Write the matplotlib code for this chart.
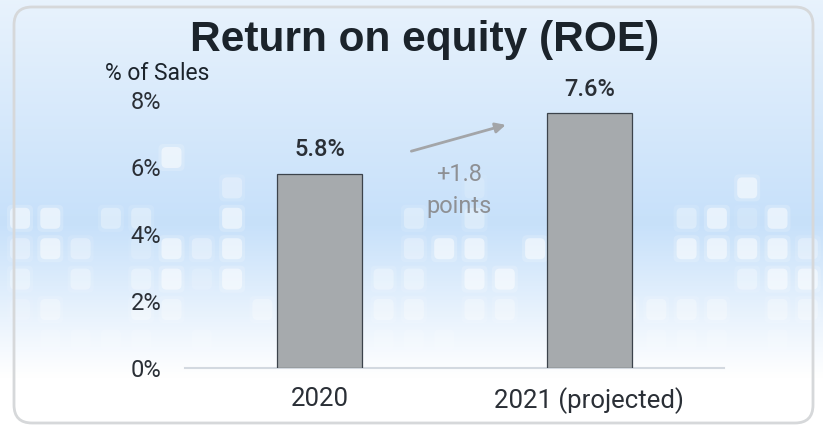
import matplotlib
matplotlib.use("Agg")
import matplotlib.pyplot as plt
import numpy as np
from matplotlib.patches import FancyBboxPatch
from matplotlib import font_manager

categories = ["2020", "2021 (projected)"]
values = [5.8, 7.6]
value_labels = ["5.8%", "7.6%"]
yticks = [0, 2, 4, 6, 8]
ytick_labels = ["0%", "2%", "4%", "6%", "8%"]
title = "Return on equity (ROE)"
ylabel = "% of Sales"
change_label = "+1.8\npoints"

# decorative background tiles (intensity per column, per row)
tile_rows = [
    "     3                     ",
    "       2       1        3  ",
    "33 22  3     2 2      2313 ",
    "232 1323 1   233 3    33332",
    "2 2 2313    22 33       233",
    "12  22  2   22 22   2222 22",
    " 1111 1     111     1111 1 ",
    "1 1 1  1 1   1 1  1  1 1 1 ",
]

names = {f.name for f in font_manager.fontManager.ttflist}
narrow = "Liberation Sans Narrow" if "Liberation Sans Narrow" in names else "Roboto"

W, H = 823, 429
fig = plt.figure(figsize=(W / 100, H / 100), dpi=100)

# background gradient
bg = fig.add_axes([0, 0, 1, 1], zorder=0)
bg.set_axis_off()
grad = np.linspace(0, 1, 256)
top = np.array([0.91, 0.95, 0.99])
mid = np.array([0.78, 0.88, 0.98])
bot = np.array([1.0, 1.0, 1.0])
cols = []
for g in grad:
    if g < 0.52:
        t = g / 0.52
        c = top * (1 - t) + mid * t
    else:
        t = min(1.0, (g - 0.52) / 0.36)
        c = mid * (1 - t) + bot * t
    cols.append(c)
img = np.array(cols)[:, None, :].repeat(2, axis=1)
bg.imshow(img, aspect="auto", extent=[0, W, H, 0], origin="upper")

alphas = {"1": 0.15, "2": 0.3, "3": 0.5}
for r, row in enumerate(tile_rows):
    for c, ch in enumerate(row):
        if ch in alphas:
            px = 10 + 30.3 * c
            py = 147 + 30.4 * r
            for grow, fa in ((3, 0.35), (0, 1.0)):
                bg.add_patch(FancyBboxPatch((px - grow, py - grow), 20 + 2 * grow, 21 + 2 * grow,
                                            boxstyle="round,pad=0,rounding_size=5",
                                            fc="white", ec="none", alpha=alphas[ch] * fa))

box = FancyBboxPatch((14, 7), W - 24, H - 13,
                     boxstyle="round,pad=0,rounding_size=18",
                     fc="none", ec="#d6d8da", lw=2)
bg.add_patch(box)
bg.set_xlim(0, W)
bg.set_ylim(H, 0)

# main axes
x0, x1 = 185, 724
y0, y1 = 368, 100
ax = fig.add_axes([x0 / W, 1 - y0 / H, (x1 - x0) / W, (y0 - y1) / H], zorder=2)
ax.patch.set_alpha(0)
x = np.arange(len(categories))
ax.bar(x, values, width=0.315, color="#a6aaad", edgecolor="#3c434b", linewidth=0.9, zorder=3)
ax.set_xlim(-0.5, 1.5)
ax.set_ylim(0, 8)
for s in ["top", "right", "left"]:
    ax.spines[s].set_visible(False)
ax.spines["bottom"].set_color("#d3d9e0")
ax.spines["bottom"].set_linewidth(1.5)
ax.set_yticks(yticks)
ax.set_yticklabels(ytick_labels, fontfamily=narrow, fontsize=17, color="#2a2f36")
ax.set_xticks(x)
ax.set_xticklabels(categories, fontfamily=narrow, fontsize=18.5, color="#2a2f36")
ax.tick_params(axis="y", length=0, pad=17)
ax.tick_params(axis="x", length=0, pad=14)

for xi, v, lab in zip(x, values, value_labels):
    ax.annotate(lab, (xi, v), xytext=(0, 9), textcoords="offset points",
                ha="center", va="bottom", fontfamily=narrow, fontsize=17,
                fontweight="medium", color="#2a2f36")

# change arrow
ax.annotate("", xy=(0.7, 7.28), xytext=(0.33, 6.45),
            arrowprops=dict(arrowstyle="-|>,head_length=0.6,head_width=0.3",
                            color="#a3a5a8", lw=2))
ax.text(0.515, 5.3, change_label, ha="center", va="center", fontfamily=narrow,
        fontsize=17, color="#8e9094", linespacing=1.55)

fig.text(425 / W, 1 - 40 / H, title, ha="center", va="center",
         fontfamily="Liberation Sans", fontweight="bold", fontsize=30.5, color="#1b232b")
fig.text(105 / W, 1 - 74 / H, ylabel, ha="left", va="center",
         fontfamily=narrow, fontsize=16.5, color="#1b232b")

fig.savefig("out.png", dpi=100)
